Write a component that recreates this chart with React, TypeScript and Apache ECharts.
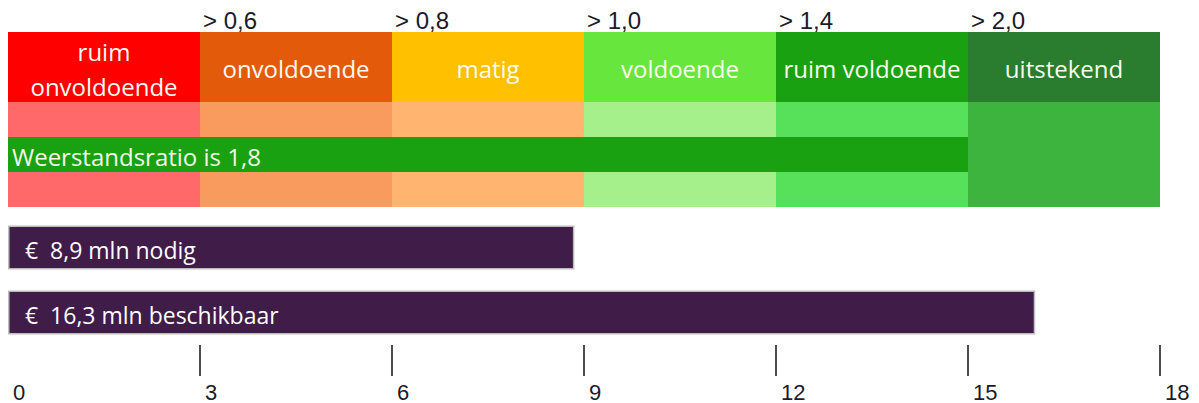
import React, { useEffect, useRef } from "react";
import * as echarts from "echarts";

// ---- data ----
const bandNames = ["ruim\nonvoldoende", "onvoldoende", "matig", "voldoende", "ruim voldoende", "uitstekend"];
const bandFrom = [0, 3, 6, 9, 12, 15];
const bandTo = [3, 6, 9, 12, 15, 18];
const thresholdAt = [3, 6, 9, 12, 15];
const thresholdLabels = ["> 0,6", "> 0,8", "> 1,0", "> 1,4", "> 2,0"];
const ratioLabel = "Weerstandsratio is 1,8";
const ratioBarEnd = 15;
const barNames = ["nodig", "beschikbaar"];
const barValues = [8.85, 16.05];
const barLabels = ["€  8,9 mln nodig", "€  16,3 mln beschikbaar"];
const axisTicks = [3, 6, 9, 12, 15, 18];

// ---- styles ----
const headerColors = ["#ff0000", "#e35a0a", "#ffc000", "#67e63d", "#1aa111", "#2a7d2e"];
const lightColors = ["#ff6969", "#f99a5e", "#ffb570", "#a5f08a", "#57e15a", "#3cb43d"];
const ratioColor = "#1aa111";
const barColor = "#401c49";
const textFont = "'Open Sans', 'Noto Sans', sans-serif";
const axisFont = "'Liberation Sans', Arial, sans-serif";

export default function App() {
  const ref = useRef<HTMLDivElement>(null);
  useEffect(() => {
    if (!ref.current) return;
    const chart = echarts.init(ref.current, undefined, { renderer: "svg" });
    const option: any = {
      animation: false,
      backgroundColor: "#ffffff",
      grid: [
        { left: 8, right: 39, top: 32, height: 175 },
        { left: 8, right: 39, top: 215, height: 130 },
      ],
      xAxis: [
        {
          gridIndex: 0,
          type: "value",
          min: 0,
          max: 18,
          interval: 3,
          position: "top",
          axisLine: { show: false },
          axisTick: { show: false },
          splitLine: { show: false },
          axisLabel: {
            show: true,
            customValues: thresholdAt,
            formatter: (v: number) => {
              const i = thresholdAt.indexOf(v);
              return i >= 0 ? thresholdLabels[i] : "";
            },
            align: "left",
            padding: [0, 0, 0, 3],
            margin: 0,
            fontSize: 24,
            fontFamily: axisFont,
            color: "#1a1a2a",
          },
        },
        {
          gridIndex: 1,
          type: "value",
          min: 0,
          max: 18,
          interval: 3,
          axisLine: { show: false },
          splitLine: { show: false },
          axisTick: {
            show: true,
            customValues: axisTicks,
            length: 31,
            lineStyle: { color: "#111", width: 1.5 },
          },
          axisLabel: {
            show: true,
            align: "left",
            padding: [0, 0, 0, 5],
            margin: 36,
            fontSize: 22,
            fontFamily: axisFont,
            color: "#1a1a2a",
          },
        },
      ],
      yAxis: [
        { gridIndex: 0, type: "value", min: 0, max: 5, inverse: true, show: false },
        { gridIndex: 1, type: "category", data: barNames, inverse: true, show: false },
      ],
      series: [
        {
          type: "custom",
          xAxisIndex: 0,
          yAxisIndex: 0,
          data: bandFrom.map((f, i) => [f, bandTo[i]]),
          encode: { x: [0, 1] },
          renderItem: (params: any, api: any) => {
            const i = params.dataIndex;
            const a = api.coord([api.value(0), 0]);
            const b = api.coord([api.value(1), 2]);
            const c = api.coord([api.value(1), 5]);
            return {
              type: "group",
              children: [
                {
                  type: "rect",
                  shape: { x: a[0], y: a[1], width: b[0] - a[0], height: b[1] - a[1] },
                  style: { fill: headerColors[i] },
                },
                {
                  type: "rect",
                  shape: { x: a[0], y: b[1], width: c[0] - a[0], height: c[1] - b[1] },
                  style: { fill: lightColors[i] },
                },
                {
                  type: "text",
                  x: (a[0] + b[0]) / 2,
                  y: (a[1] + b[1]) / 2 + 1.5,
                  style: {
                    text: bandNames[i],
                    fill: "#fbfbef",
                    fontSize: 24,
                    fontFamily: textFont,
                    lineHeight: 35,
                    align: "center",
                    verticalAlign: "middle",
                  },
                },
              ],
            };
          },
        },
        {
          type: "custom",
          xAxisIndex: 0,
          yAxisIndex: 0,
          data: [[0, ratioBarEnd]],
          encode: { x: [0, 1] },
          renderItem: (params: any, api: any) => {
            const a = api.coord([api.value(0), 3]);
            const b = api.coord([api.value(1), 4]);
            return {
              type: "group",
              children: [
                {
                  type: "rect",
                  shape: { x: a[0], y: a[1], width: b[0] - a[0], height: b[1] - a[1] },
                  style: { fill: ratioColor },
                },
                {
                  type: "text",
                  x: a[0] + 4,
                  y: (a[1] + b[1]) / 2 + 1.5,
                  style: {
                    text: ratioLabel,
                    fill: "#f4f8e8",
                    fontSize: 24,
                    fontFamily: textFont,
                    align: "left",
                    verticalAlign: "middle",
                  },
                },
              ],
            };
          },
        },
        {
          type: "bar",
          xAxisIndex: 1,
          yAxisIndex: 1,
          data: barValues,
          barWidth: 44,
          itemStyle: { color: barColor, borderColor: "#bdbdbd", borderWidth: 1.5 },
          label: {
            show: true,
            position: "insideLeft",
            distance: 17,
            offset: [0, 2],
            formatter: (p: any) => barLabels[p.dataIndex],
            color: "#ffffff",
            fontSize: 23,
            fontFamily: textFont,
          },
        },
      ],
    };
    chart.setOption(option);
    return () => chart.dispose();
  }, []);
  return (
    <div
      ref={ref}
      style={{ position: "fixed", left: 0, top: 0, width: 1199, height: 403, background: "#fff" }}
    />
  );
}
